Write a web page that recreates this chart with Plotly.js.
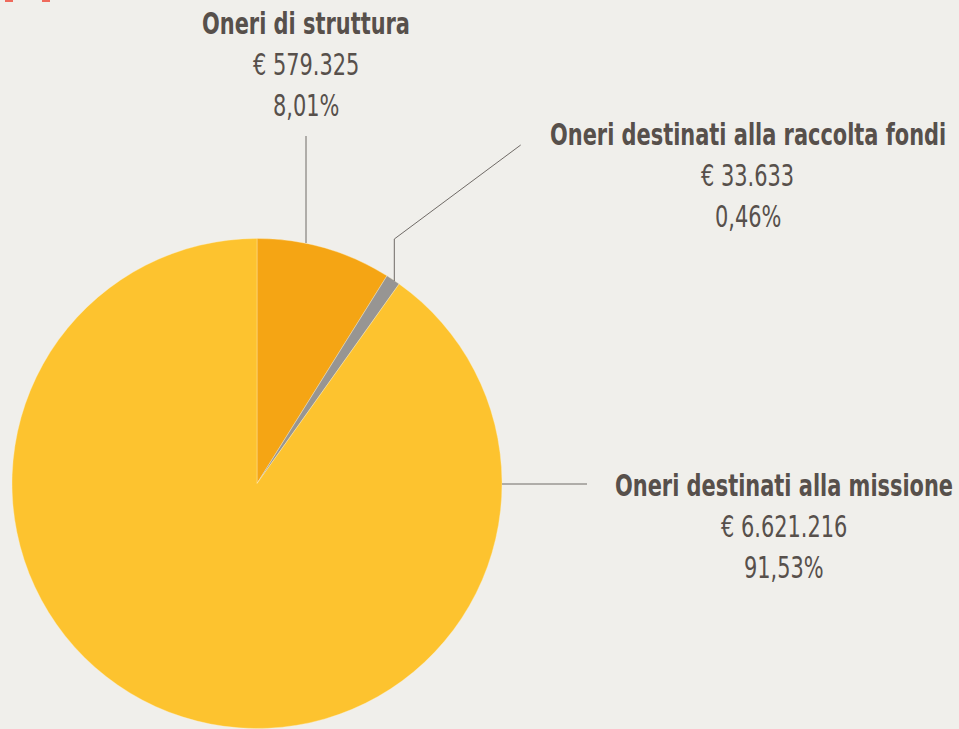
<!DOCTYPE html>
<html>
<head>
<meta charset="utf-8">
<script src="https://cdn.plot.ly/plotly-3.0.1.min.js"></script>
<style>
  html, body { margin: 0; padding: 0; background: #f0efeb; }
  #chart { width: 959px; height: 729px; }
  .annotation-text { transform-box: fill-box; transform-origin: center; transform: scaleX(0.75); }
</style>
</head>
<body>
<div id="chart"></div>
<script>
const categories = ["Oneri di struttura", "Oneri destinati alla raccolta fondi", "Oneri destinati alla missione"];
const amounts = [579325, 33633, 6621216];
const amountLabels = ["€ 579.325", "€ 33.633", "€ 6.621.216"];
const percentLabels = ["8,01%", "0,46%", "91,53%"];
// slice sizes as drawn in the picture (percent of the circle)
const drawnShares = [8.9, 0.95, 90.15];
const colors = ["#f5a514", "#979593", "#fdc32f"];

const W = 959, H = 729;
const FONT = "'DejaVu Sans Condensed', 'DejaVu Sans', sans-serif";
const TXT = "#57504b";

// label block anchor positions (pixels) and leader lines (pixels)
const labelPos = [
  {x: 306, y: 23},
  {x: 747.5, y: 135},
  {x: 783.5, y: 485}
];
const leaders = [
  [[306, 136], [306, 243]],
  [[520.7, 145], [394.3, 239], [394.3, 281]],
  [[502, 484], [587, 484]]
];
const lineGap = 41;

const px = x => x / W;
const py = y => 1 - y / H;

const annotations = [];
categories.forEach((c, i) => {
  const p = labelPos[i];
  const lines = ["<b>" + c + "</b>", amountLabels[i], percentLabels[i]];
  lines.forEach((t, j) => {
    annotations.push({
      xref: "paper", yref: "paper",
      x: px(p.x), y: py(p.y + j * lineGap),
      xanchor: "center", yanchor: "middle",
      text: t, showarrow: false,
      font: {family: FONT, size: 31, color: TXT}
    });
  });
});

const shapes = [];
leaders.forEach(pts => {
  const path = pts.map((q, k) => (k ? "L" : "M") + px(q[0]) + "," + py(q[1])).join(" ");
  shapes.push({type: "path", xref: "paper", yref: "paper", path: path,
    line: {color: "#6f6a66", width: 1}});
});
// small red marks at top-left edge
[[5, 13], [42, 50]].forEach(r => {
  shapes.push({type: "rect", xref: "paper", yref: "paper",
    x0: px(r[0]), x1: px(r[1]), y0: py(2), y1: 1,
    fillcolor: "#ef6a5c", line: {width: 0}});
});

const cx = 257, cy = 483.5, R = 245;
const data = [{
  type: "pie",
  labels: categories,
  values: drawnShares,
  customdata: amounts,
  marker: {colors: colors, line: {width: 0.6, color: "rgba(255,240,200,0.6)"}},
  sort: false,
  direction: "clockwise",
  rotation: 0,
  textinfo: "none",
  hoverinfo: "label",
  domain: {x: [px(cx - R), px(cx + R)], y: [py(cy + R), py(cy - R)]},
  showlegend: false
}];

const layout = {
  width: W, height: H,
  margin: {l: 0, r: 0, t: 0, b: 0},
  paper_bgcolor: "#f0efeb",
  plot_bgcolor: "#f0efeb",
  showlegend: false,
  annotations: annotations,
  shapes: shapes
};

Plotly.newPlot("chart", data, layout, {displayModeBar: false, staticPlot: true});
</script>
</body>
</html>
